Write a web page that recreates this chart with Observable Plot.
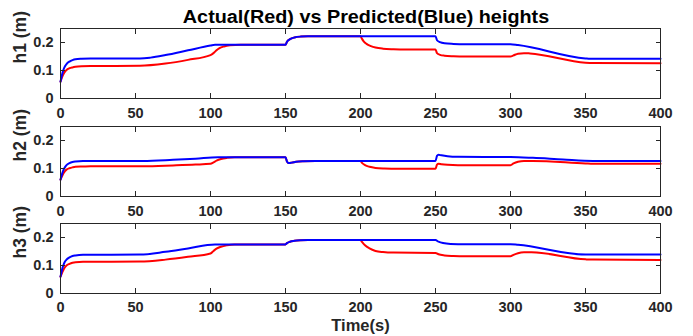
<!DOCTYPE html>
<html>
<head>
<meta charset="utf-8">
<script src="https://cdn.jsdelivr.net/npm/d3@7"></script>
<script src="https://cdn.jsdelivr.net/npm/@observablehq/plot@0.6"></script>
<style>
  html, body { margin: 0; padding: 0; background: #fff; }
  #chart { width: 693px; position: relative; }
  #title { height: 25px; position: relative; font: bold 18px "Liberation Sans", Arial, sans-serif; color: #000; }
  #title span { position: absolute; left: 366px; top: 7.5px; line-height: 1; white-space: nowrap; transform: translateX(-50%) scaleX(1.1); }
  svg { display: block; overflow: visible; background: transparent; }
</style>
</head>
<body>
<div id="chart">
  <div id="title"><span>Actual(Red) vs Predicted(Blue) heights</span></div>
</div>
<script>
// ---- tick definitions ----
const xTicks = [0, 50, 100, 150, 200, 250, 300, 350, 400];
const yTicks = [0, 0.1, 0.2];
const yTickLabels = ["0", "0.1", "0.2"];
const panelLabels = ["h1 (m)", "h2 (m)", "h3 (m)"];

// ---- h1 ----
const h1RedT  = [0,1,2,3,4,6,8,10,14,20,53,70,85,100,102,104,106,109,113,120,150,151,153,156,160,165,200,201,202,204,207,210,215,222,230,250,251,253,256,262,270,300,302,305,309,313,350,355,400];
const h1RedV  = [0.060,0.075,0.087,0.096,0.102,0.108,0.111,0.113,0.115,0.116,0.117,0.125,0.138,0.155,0.162,0.172,0.180,0.186,0.190,0.192,0.192,0.203,0.212,0.218,0.221,0.222,0.222,0.213,0.205,0.195,0.187,0.182,0.178,0.176,0.175,0.175,0.162,0.156,0.153,0.151,0.150,0.150,0.154,0.160,0.162,0.161,0.128,0.127,0.126];
const h1BlueT = [0,1,2,3,4,6,8,10,14,20,53,60,70,85,100,103,150,151,153,156,160,165,250,251,253,256,262,270,300,305,350,353,400];
const h1BlueV = [0.060,0.085,0.103,0.115,0.123,0.132,0.137,0.140,0.142,0.143,0.143,0.146,0.155,0.172,0.189,0.192,0.192,0.203,0.212,0.218,0.221,0.222,0.222,0.208,0.201,0.197,0.195,0.194,0.194,0.191,0.143,0.142,0.142];

// ---- h2 ----
const h2RedT  = [0,1,2,3,4,6,8,10,15,20,55,75,90,100,102,104,107,111,116,150,151,152,154,157,162,170,200,201,203,206,210,216,225,250,251,252,254,258,265,300,302,305,309,315,350,355,400];
const h2RedV  = [0.060,0.072,0.083,0.091,0.096,0.101,0.104,0.106,0.107,0.108,0.108,0.111,0.114,0.117,0.122,0.128,0.134,0.138,0.140,0.140,0.125,0.120,0.121,0.124,0.126,0.127,0.127,0.120,0.112,0.106,0.102,0.100,0.099,0.099,0.114,0.117,0.115,0.113,0.112,0.112,0.118,0.124,0.127,0.127,0.118,0.117,0.117];
const h2BlueT = [0,1,2,3,4,6,8,10,15,55,75,90,105,150,151,152,154,157,162,170,250,251,252,254,258,265,300,315,335,355,400];
const h2BlueV = [0.060,0.080,0.095,0.105,0.112,0.119,0.123,0.125,0.127,0.127,0.131,0.135,0.140,0.140,0.125,0.120,0.121,0.124,0.126,0.127,0.127,0.145,0.149,0.147,0.144,0.142,0.141,0.138,0.132,0.127,0.127];

// ---- h3 ----
const h3RedT  = [0,1,2,3,4,6,8,10,15,53,70,85,100,102,104,107,111,116,150,151,153,156,160,165,200,201,203,206,210,215,222,250,252,256,262,270,300,302,305,309,314,350,355,400];
const h3RedV  = [0.060,0.073,0.085,0.094,0.100,0.106,0.110,0.112,0.113,0.114,0.121,0.131,0.143,0.152,0.160,0.167,0.172,0.175,0.175,0.180,0.185,0.188,0.190,0.191,0.191,0.184,0.172,0.161,0.152,0.148,0.146,0.145,0.140,0.136,0.134,0.133,0.133,0.138,0.144,0.147,0.147,0.122,0.121,0.120];
const h3BlueT = [0,1,2,3,4,6,8,10,15,53,70,85,103,150,151,153,156,160,165,250,252,255,260,270,300,305,350,400];
const h3BlueV = [0.060,0.085,0.102,0.114,0.121,0.129,0.134,0.136,0.138,0.139,0.149,0.161,0.175,0.175,0.180,0.185,0.188,0.190,0.191,0.191,0.185,0.180,0.177,0.176,0.176,0.174,0.139,0.139];

const FONT = '"Liberation Sans", Arial, Helvetica, sans-serif';
const INK = "#262626";

function rows(T, V) { return T.map((t, i) => ({t, v: V[i]})); }

function panel(label, redT, redV, blueT, blueV, cfg) {
  const marks = [
    Plot.line(rows(redT, redV), {x: "t", y: "v", stroke: "#ff0000", strokeWidth: 2, curve: "monotone-x"}),
    Plot.line(rows(blueT, blueV), {x: "t", y: "v", stroke: "#0000ff", strokeWidth: 2, curve: "monotone-x"}),
    Plot.frame({stroke: INK, strokeWidth: 1}),
    Plot.axisX(xTicks, {anchor: "bottom", tickSize: -5, tickPadding: cfg.xpad, label: null, stroke: INK}),
    Plot.axisX(xTicks, {anchor: "top", tickSize: -5, tickFormat: () => "", label: null, stroke: INK}),
    Plot.axisY(yTicks, {anchor: "left", tickSize: -5, tickPadding: 12, label: null, stroke: INK,
      tickFormat: d => yTickLabels[yTicks.indexOf(d)]}),
    Plot.axisY(yTicks, {anchor: "right", tickSize: -5, tickFormat: () => "", label: null, stroke: INK}),
    Plot.text([label], {text: d => d, frameAnchor: "left", dx: -40, rotate: -90, fontSize: 17.5, fontWeight: "bold", fill: INK})
  ];
  if (cfg.xlabel) {
    marks.push(Plot.text([cfg.xlabel], {text: d => d, frameAnchor: "bottom", dy: 37, lineAnchor: "bottom", fontSize: 16.5, fontWeight: "bold", fill: INK}));
  }
  return Plot.plot({
    width: 693,
    height: cfg.height,
    marginLeft: 60,
    marginRight: 33,
    marginTop: cfg.top,
    marginBottom: cfg.bottom,
    x: {domain: [0, 400], label: null},
    y: {domain: [0, 0.25], label: null},
    style: {fontFamily: FONT, fontSize: "14.5px", fontWeight: "bold", color: INK, background: "transparent", overflow: "visible"},
    marks
  });
}

const chart = document.getElementById("chart");
chart.append(panel(panelLabels[0], h1RedT, h1RedV, h1BlueT, h1BlueV, {height: 97, top: 3, bottom: 24, xpad: 14}));
chart.append(panel(panelLabels[1], h2RedT, h2RedV, h2BlueT, h2BlueV, {height: 97, top: 4, bottom: 23, xpad: 14}));
chart.append(panel(panelLabels[2], h3RedT, h3RedV, h3BlueT, h3BlueV, {height: 117, top: 4, bottom: 43, xpad: 13, xlabel: "Time(s)"}));
</script>
</body>
</html>
